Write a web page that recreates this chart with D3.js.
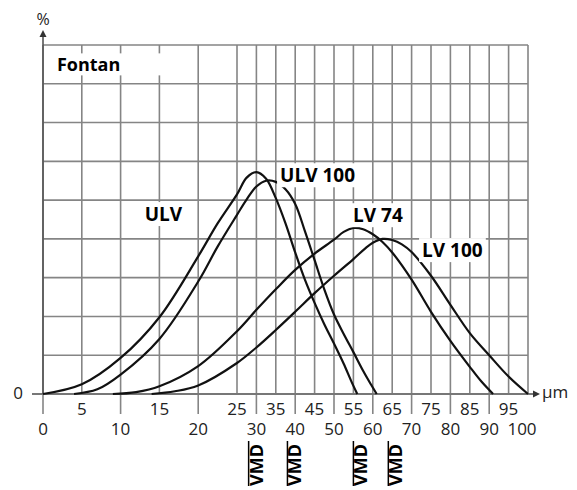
<!DOCTYPE html>
<html>
<head>
<meta charset="utf-8">
<script src="https://cdn.jsdelivr.net/npm/d3@7/dist/d3.min.js"></script>
<style>
body { margin: 0; background: #fff; }
text { font-family: "Open Sans", sans-serif; }
</style>
</head>
<body>
<div id="chart"></div>
<script>
// droplet size (µm) on x, share (%) on y (no scale printed, grid units)
var gridSizes = [0, 5, 10, 15, 20, 25, 30, 35, 40, 45, 50, 55, 60, 65, 70, 75, 80, 85, 90, 95, 100];
var lowerTicks = [0, 10, 20, 30, 40, 50, 60, 70, 80, 90, 100];
var upperTicks = [5, 15, 25, 35, 45, 55, 65, 75, 85, 95];
var gridLevels = [0, 1, 2, 3, 4, 5, 6, 7, 8, 9];

var seriesNames = ['ULV', 'ULV 100', 'LV 74', 'LV 100'];
var ulvSize   = [0, 5, 10, 15, 20, 22.5, 25, 27.5, 30, 32.5, 35, 37.5, 40, 42.5, 45, 47.5, 50, 52.5, 54.5, 56];
var ulvPct    = [0, 0.25, 0.93, 1.98, 3.55, 4.4, 5.15, 5.58, 5.72, 5.55, 5.05, 4.4, 3.65, 2.95, 2.35, 1.8, 1.3, 0.78, 0.32, 0];
var ulv100Size = [4, 7, 10, 15, 20, 22.5, 25, 27.5, 30, 32.5, 35, 37.5, 40, 42.5, 45, 47.5, 50, 52.5, 55, 57.5, 59.5, 61];
var ulv100Pct  = [0, 0.12, 0.5, 1.42, 2.9, 3.8, 4.62, 5.02, 5.35, 5.5, 5.47, 5.28, 4.9, 4.2, 3.45, 2.7, 2.05, 1.55, 1.08, 0.6, 0.25, 0];
var lv74Size  = [9, 12, 15, 20, 25, 30, 35, 40, 45, 50, 52.5, 55, 57.5, 60, 62.5, 65, 70, 75, 80, 85, 88, 91];
var lv74Pct   = [0, 0.05, 0.2, 0.72, 1.62, 2.17, 2.7, 3.2, 3.62, 3.98, 4.18, 4.28, 4.25, 4.12, 3.92, 3.65, 2.95, 2.12, 1.37, 0.7, 0.32, 0];
var lv100Size = [14, 17, 20, 25, 30, 35, 40, 45, 50, 55, 58, 60, 62.5, 65, 67.5, 70, 75, 80, 85, 90, 95, 100];
var lv100Pct  = [0, 0.07, 0.22, 0.8, 1.2, 1.65, 2.12, 2.6, 3.05, 3.48, 3.75, 3.9, 4.0, 3.97, 3.86, 3.66, 3.05, 2.3, 1.57, 1.0, 0.45, 0];

// label anchors, in data units
var labelSize = [13.1, 36.1, 54.9, 72.7];
var labelPct  = [4.46, 5.46, 4.43, 3.53];

var vmdSizes = [28, 38, 55, 64];

var w = 577, h = 490;
// the printed axis is stretched below 25 µm
var x = d3.scaleLinear().domain([0, 25, 100]).range([43, 237, 528]);
var y = d3.scaleLinear().domain([0, 9]).range([394, 45]);

var svg = d3.select('#chart').append('svg')
	.attr('width', w).attr('height', h);

var gridColor = '#858585';

// grid
svg.selectAll('line.vgrid')
	.data(gridSizes)
	.enter().append('line')
	.attr('class', 'vgrid')
	.attr('x1', function(d) { return x(d); })
	.attr('x2', function(d) { return x(d); })
	.attr('y1', y(0)).attr('y2', y(9))
	.attr('stroke', gridColor).attr('stroke-width', 1.6);

svg.selectAll('line.hgrid')
	.data(gridLevels)
	.enter().append('line')
	.attr('class', 'hgrid')
	.attr('x1', x(0)).attr('x2', x(100))
	.attr('y1', function(d) { return y(d); })
	.attr('y2', function(d) { return y(d); })
	.attr('stroke', gridColor).attr('stroke-width', 1.6);

// long ticks under the axis
svg.selectAll('line.tick')
	.data(lowerTicks.slice(0, -1))
	.enter().append('line')
	.attr('class', 'tick')
	.attr('x1', function(d) { return x(d); })
	.attr('x2', function(d) { return x(d); })
	.attr('y1', y(0)).attr('y2', y(0) + 20)
	.attr('stroke', gridColor).attr('stroke-width', 1.6);

// axes with arrows
svg.append('line')
	.attr('x1', 32).attr('x2', 534)
	.attr('y1', y(0)).attr('y2', y(0))
	.attr('stroke', '#777').attr('stroke-width', 1.8);
svg.append('path')
	.attr('d', 'M' + 540 + ',' + y(0) + 'l-7,-3.5l0,7z')
	.attr('fill', '#333');
svg.append('line')
	.attr('x1', x(0)).attr('x2', x(0))
	.attr('y1', y(0)).attr('y2', 36)
	.attr('stroke', '#555').attr('stroke-width', 1.6);
svg.append('path')
	.attr('d', 'M' + x(0) + ',' + 30 + 'l-3.5,7l7,0z')
	.attr('fill', '#333');

svg.append('text').text('%')
	.attr('x', x(0)).attr('y', 25)
	.attr('text-anchor', 'middle')
	.attr('font-size', '16px').attr('fill', '#222');
svg.append('text').text('µm')
	.attr('x', 542).attr('y', y(0) + 4)
	.attr('font-size', '17px').attr('fill', '#222');
svg.append('text').text('0')
	.attr('x', 23).attr('y', y(0) + 5)
	.attr('text-anchor', 'end')
	.attr('font-size', '17px').attr('fill', '#222');

svg.selectAll('text.upper')
	.data(upperTicks)
	.enter().append('text')
	.attr('class', 'upper')
	.text(function(d) { return d; })
	.attr('x', function(d) { return x(d); })
	.attr('y', y(0) + 21)
	.attr('text-anchor', 'middle')
	.attr('font-size', '17px').attr('fill', '#222');

svg.selectAll('text.lower')
	.data(lowerTicks)
	.enter().append('text')
	.attr('class', 'lower')
	.text(function(d) { return d; })
	.attr('x', function(d) { return d == 100 ? x(d) - 6 : x(d); })
	.attr('y', y(0) + 41)
	.attr('text-anchor', 'middle')
	.attr('font-size', '17px').attr('fill', '#222');

// curves
var curves = [
	d3.zip(ulvSize, ulvPct),
	d3.zip(ulv100Size, ulv100Pct),
	d3.zip(lv74Size, lv74Pct),
	d3.zip(lv100Size, lv100Pct)
];
var line = d3.line()
	.x(function(d) { return x(d[0]); })
	.y(function(d) { return y(d[1]); })
	.curve(d3.curveCatmullRom.alpha(0.5));

svg.selectAll('path.curve')
	.data(curves)
	.enter().append('path')
	.attr('class', 'curve')
	.attr('d', line)
	.attr('fill', 'none')
	.attr('stroke', '#111')
	.attr('stroke-width', 2.2);

// labels on white patches
function label(txt, px, py, size) {
	var g = svg.append('g');
	var rect = g.append('rect').attr('fill', '#fff');
	var t = g.append('text').text(txt)
		.attr('x', px).attr('y', py)
		.attr('font-size', size).attr('font-weight', 'bold')
		.attr('fill', '#000');
	var b = t.node().getBBox();
	rect.attr('x', b.x - 3).attr('y', b.y + 1)
		.attr('width', b.width + 6).attr('height', b.height - 2);
	return rect;
}

var fontanRect = label('Fontan', x(1.8), y(8.32), '18px');
fontanRect.attr('x', x(0) + 2).attr('width', 140);

seriesNames.forEach(function(name, i) {
	label(name, x(labelSize[i]), y(labelPct[i]), '19px');
});

// VMD marks under the axis
var vmd = svg.selectAll('g.vmd')
	.data(vmdSizes)
	.enter().append('g')
	.attr('class', 'vmd')
	.attr('transform', function(d) { return 'translate(' + x(d) + ',' + 486 + ')'; });
vmd.append('line')
	.attr('x1', 0).attr('x2', 0)
	.attr('y1', 0).attr('y2', -45)
	.attr('stroke', '#000').attr('stroke-width', 1.5);
vmd.append('text').text('VMD')
	.attr('transform', 'rotate(-90)')
	.attr('x', 0).attr('y', 14)
	.attr('font-size', '18px').attr('font-weight', 'bold')
	.attr('fill', '#000');
</script>
</body>
</html>
